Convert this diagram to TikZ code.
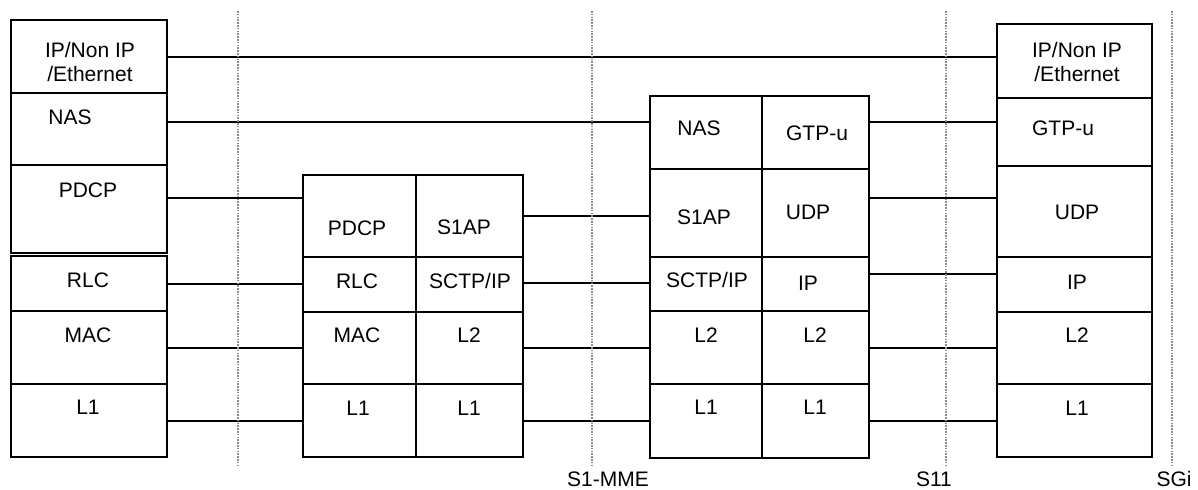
\documentclass[tikz,border=0pt]{standalone}
\usepackage{fontspec}
\setmainfont{Liberation Sans}
\usepackage{tikz}
\usetikzlibrary{fit}

\tikzset{
  cell/.style={draw, line width=0.8pt, inner sep=0pt},
  lbl/.style={font=\fontsize{10.5}{12}\selectfont, inner sep=0pt, anchor=base},
  twoline/.style={font=\fontsize{10.5}{12}\selectfont, inner sep=0pt, align=center},
  link/.style={line width=0.8pt},
  refline/.style={draw=gray!90, line width=1pt, dash pattern=on 0.8pt off 0.6pt}
}

\begin{document}
\begin{tikzpicture}[x=0.5pt,y=-0.5pt]
  \useasboundingbox (0,0) rectangle (1198,489);
  \foreach \n/\xa/\ya/\xb/\yb in {ueIP/11/20/167/93, ueNAS/11/93/167/165, uePDCP/11/165/167/253,
      ueRLC/11/256/167/311, ueMAC/11/311/167/384, ueL1/11/384/167/457,
      enbPDCP/303/175/416/257, enbRLC/303/257/416/312, enbMAC/303/312/416/384, enbL1/303/384/416/457,
      enbSA/416/175/523/257, enbSCTP/416/257/523/312, enbL2/416/312/523/384, enbL1r/416/384/523/457,
      mmeNAS/650/96/762/169, mmeSA/650/169/762/257, mmeSCTP/650/257/762/311, mmeL2/650/311/762/384, mmeL1/650/384/762/458,
      mmeGTP/762/96/869/169, mmeUDP/762/169/869/257, mmeIP/762/257/869/311, mmeL2r/762/311/869/384, mmeL1r/762/384/869/458,
      gwIP/997/24/1152/98, gwGTP/997/98/1152/166, gwUDP/997/166/1152/257, gwIPb/997/257/1152/312,
      gwL2/997/312/1152/384, gwL1/997/384/1152/457} {
    \node[cell, fit={(\xa,\ya) (\xb,\yb)}] (\n) {};
  }
  \node[twoline] (ueIP-t) at (90,62) {IP/Non IP\\/Ethernet};
  \node[twoline] (gwIP-t) at (1077,62) {IP/Non IP\\/Ethernet};
  \foreach \n/\x/\y/\t in {ueNAS/70/124.5/NAS, uePDCP/88/197.5/PDCP, ueRLC/88/287.5/RLC, ueMAC/88/342.5/MAC, ueL1/88/414.5/L1,
      enbPDCP/357/235.5/PDCP, enbRLC/357/288.5/RLC, enbMAC/357/342.5/MAC, enbL1/358/415.5/L1,
      enbSA/464/234.5/S1AP, enbSCTP/470/288.5/{SCTP/IP}, enbL2/469/342.5/L2, enbL1r/469/415.5/L1,
      mmeNAS/699/135.5/NAS, mmeSA/704/224.5/S1AP, mmeSCTP/707/287.5/{SCTP/IP}, mmeL2/706/342.5/L2, mmeL1/706/414.5/L1,
      mmeGTP/817/140.5/GTP-u, mmeUDP/808/219.5/UDP, mmeIP/808/290.5/IP, mmeL2r/815/342.5/L2, mmeL1r/815/414.5/L1,
      gwGTP/1063/135.5/GTP-u, gwUDP/1077/219.5/UDP, gwIPb/1077/289.5/IP, gwL2/1077/342.5/L2, gwL1/1077/415.5/L1} {
    \node[lbl] (\n-t) at (\x,\y) {\t};
  }
  \foreach \a/\b/\y in {ueIP/gwIP/57, ueNAS/mmeNAS/122, uePDCP/enbPDCP/198, ueRLC/enbRLC/284, ueMAC/enbMAC/348, ueL1/enbL1/421,
      enbSA/mmeSA/216, enbSCTP/mmeSCTP/283, enbL2/mmeL2/348, enbL1r/mmeL1/421,
      mmeGTP/gwGTP/122, mmeUDP/gwUDP/198, mmeIP/gwIPb/274, mmeL2r/gwL2/348, mmeL1r/gwL1/421} {
    \draw[link] (\a.east |- 0,\y) -- (\b.west |- 0,\y);
  }
  \foreach \n/\x in {uu/238, sa/592, sb/946, sc/1172} {
    \coordinate (\n-top) at (\x,11);
    \coordinate (\n-bot) at (\x,466);
    \draw[refline] (\n-top) -- (\n-bot);
  }
  \node[lbl] (s1mme) at (608,486) {S1-MME};
  \node[lbl] (s11) at (934,486) {S11};
  \node[lbl] (sgi) at (1174,486) {SGi};
\end{tikzpicture}
\end{document}
